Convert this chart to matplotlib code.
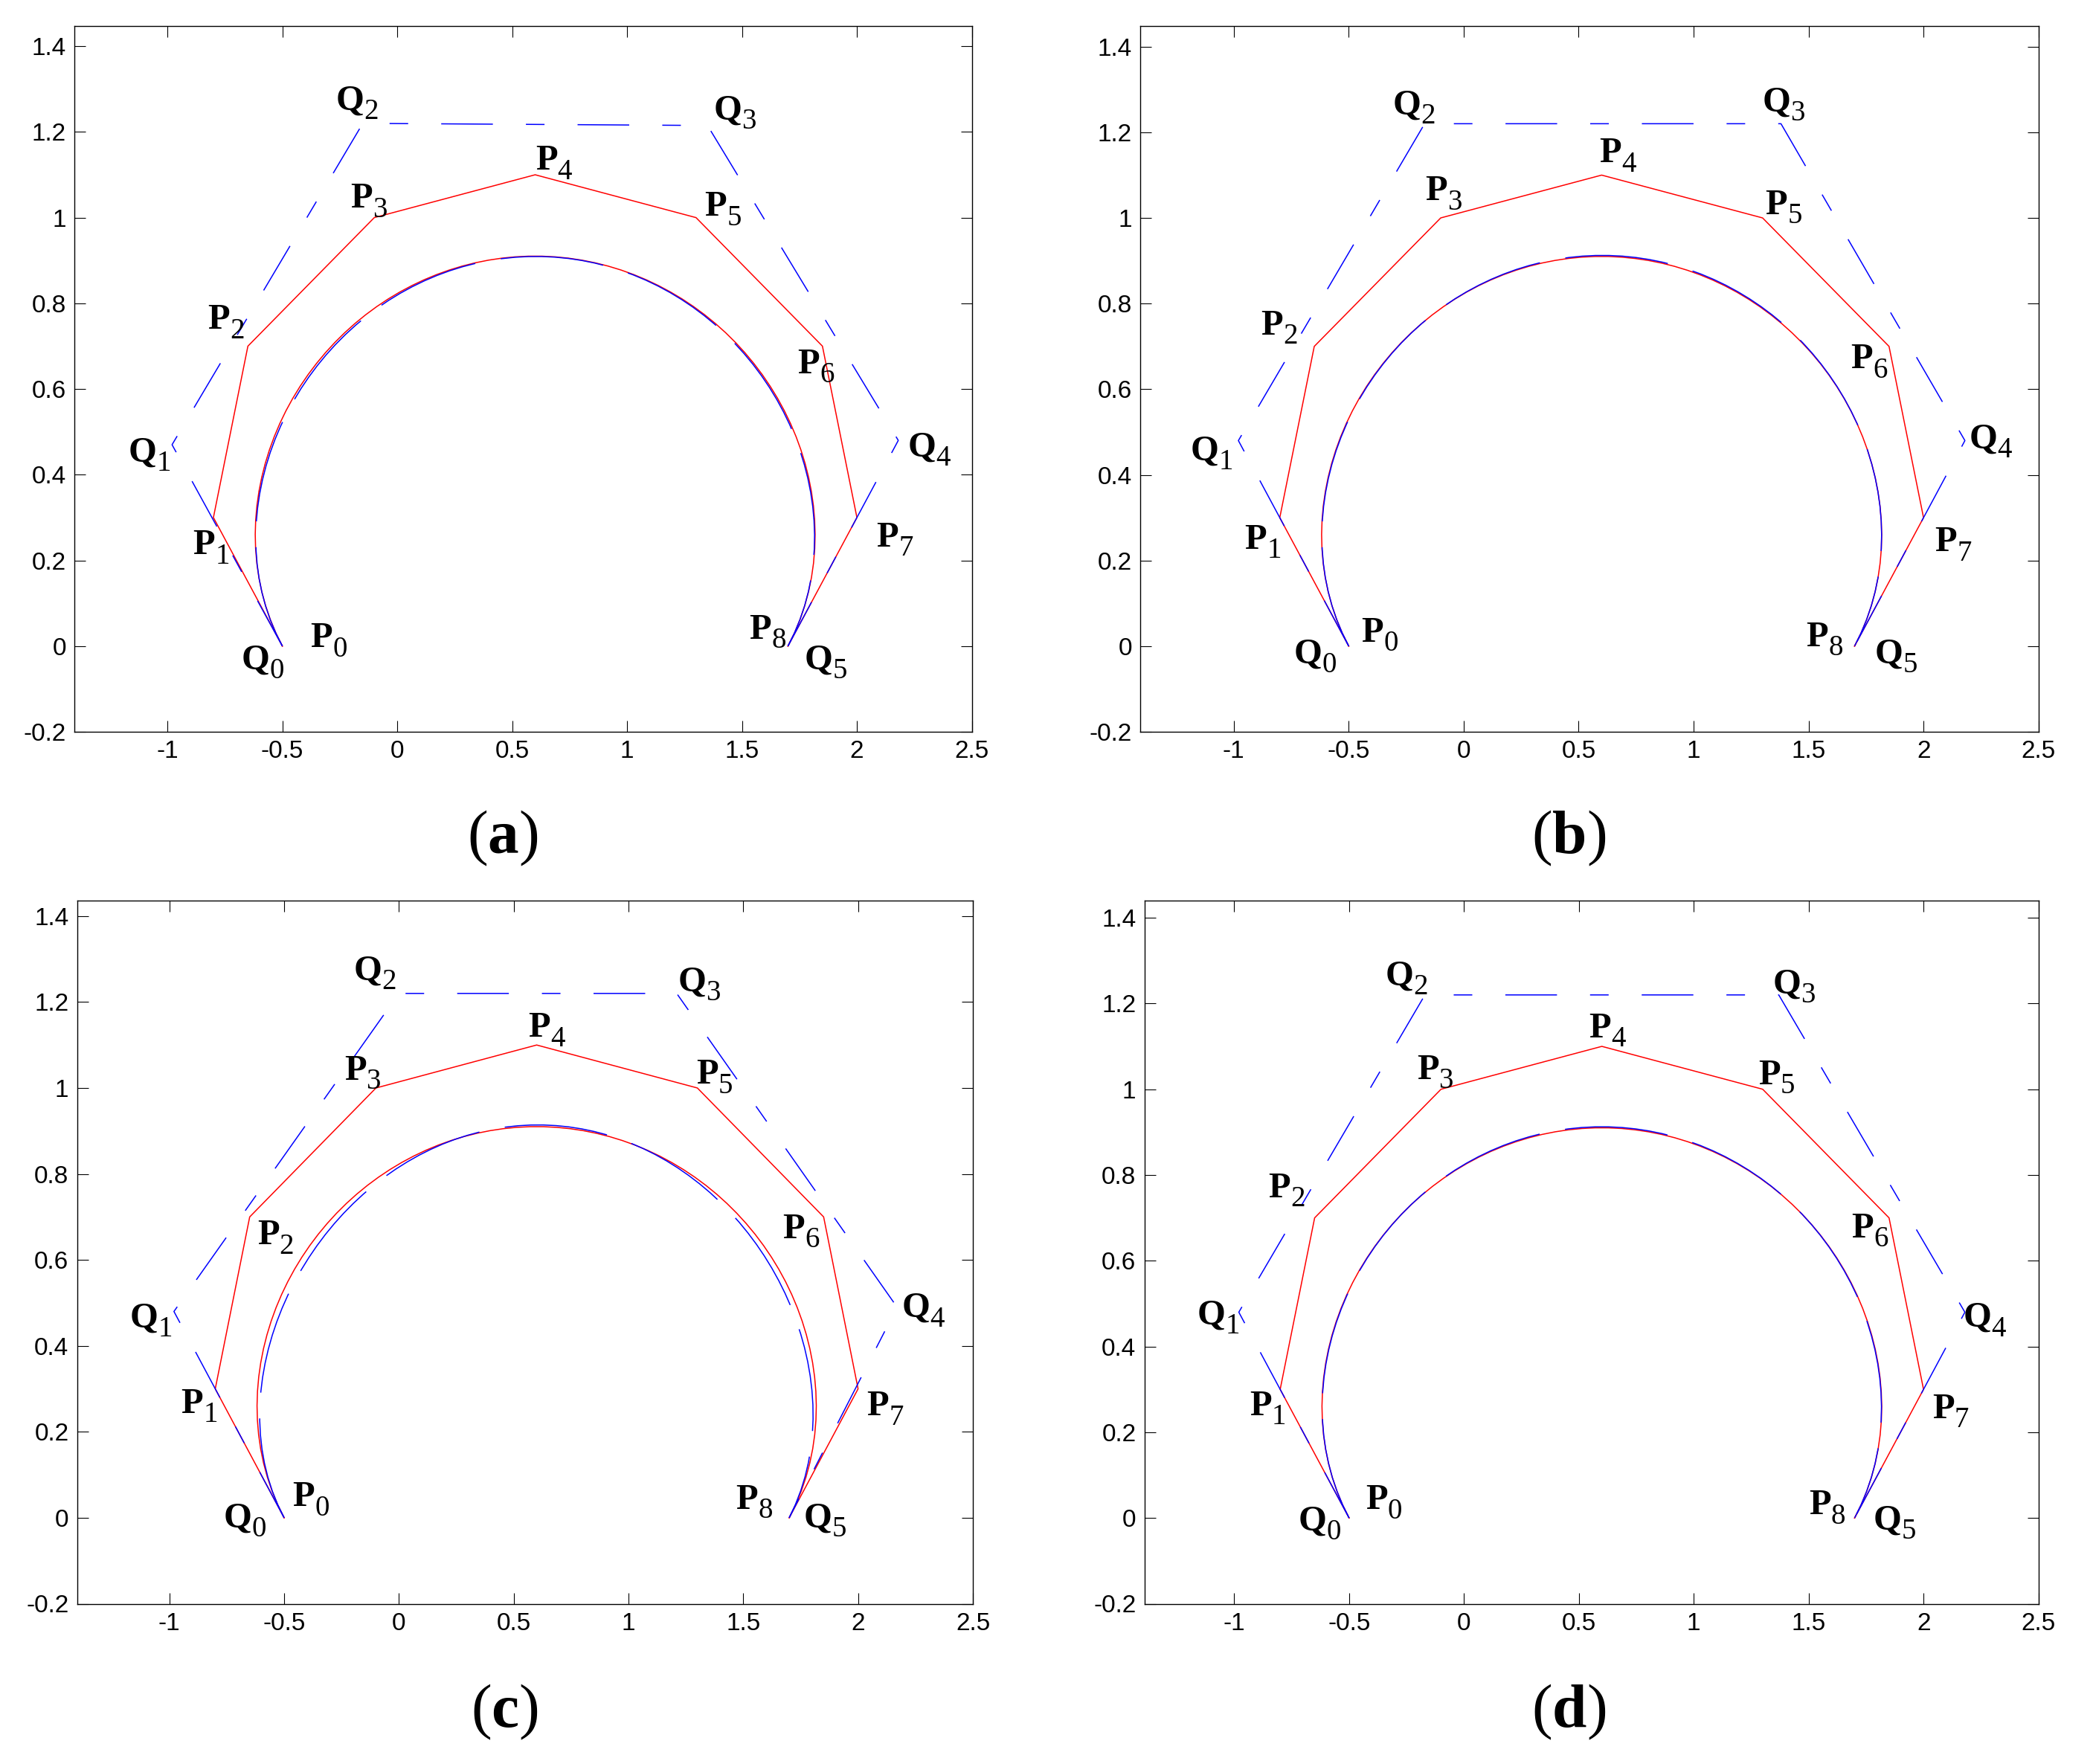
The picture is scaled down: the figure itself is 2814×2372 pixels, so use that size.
import numpy as np
import matplotlib
matplotlib.use('Agg')
import matplotlib.pyplot as plt
import matplotlib.transforms as mtransforms
from math import comb

plt.rcParams['mathtext.fontset'] = 'custom'
plt.rcParams['mathtext.rm'] = 'Liberation Serif'
plt.rcParams['mathtext.bf'] = 'Liberation Serif:bold'
plt.rcParams['mathtext.it'] = 'Liberation Serif:italic'
plt.rcParams['lines.scale_dashes'] = False

# ---------------- data ----------------
P_x = [-0.5, -0.8, -0.65, -0.1, 0.6, 1.3, 1.85, 2.0, 1.7]
P_y = [0.0, 0.3, 0.7, 1.0, 1.1, 1.0, 0.7, 0.3, 0.0]

Q_x_a = [-0.5, -0.98, -0.15, 1.35, 2.18, 1.7]
Q_y_a = [0.0, 0.47, 1.22, 1.215, 0.48, 0.0]
Q_x_b = [-0.5, -0.98, -0.17, 1.38, 2.18, 1.7]
Q_y_b = [0.0, 0.48, 1.22, 1.22, 0.48, 0.0]
Q_x_c = [-0.5, -0.98, 0.0, 1.21, 2.17, 1.7]
Q_y_c = [0.0, 0.48, 1.22, 1.22, 0.49, 0.0]
Q_x_d = [-0.5, -0.98, -0.17, 1.37, 2.18, 1.7]
Q_y_d = [0.0, 0.48, 1.22, 1.22, 0.48, 0.0]

panel_names = ['(a)', '(b)', '(c)', '(d)']

x_ticks = [-1, -0.5, 0, 0.5, 1, 1.5, 2, 2.5]
x_ticklabels = ['-1', '-0.5', '0', '0.5', '1', '1.5', '2', '2.5']
y_ticks = [-0.2, 0, 0.2, 0.4, 0.6, 0.8, 1.0, 1.2, 1.4]
y_ticklabels = ['-0.2', '0', '0.2', '0.4', '0.6', '0.8', '1', '1.2', '1.4']

point_names = ['P0', 'P1', 'P2', 'P3', 'P4', 'P5', 'P6', 'P7', 'P8',
               'Q0', 'Q1', 'Q2', 'Q3', 'Q4', 'Q5']

# ---------------- layout (label anchor positions, left/baseline) ----------------
LABEL_POS = {
    '(a)': [(-0.378, -0.003), (-0.89, 0.214), (-0.826, 0.740), (-0.204, 1.023),
            (0.60, 1.112), (1.337, 1.004), (1.742, 0.637), (2.084, 0.233),
            (1.531, 0.017), (-0.679, -0.054), (-1.171, 0.431), (-0.268, 1.252),
            (1.375, 1.229), (2.22, 0.443), (1.771, -0.054)],
    '(b)': [(-0.445, 0.011), (-0.954, 0.228), (-0.883, 0.728), (-0.168, 1.041),
            (0.59, 1.13), (1.311, 1.009), (1.682, 0.649), (2.048, 0.222),
            (1.49, 0.0), (-0.74, -0.04), (-1.189, 0.435), (-0.311, 1.243),
            (1.299, 1.249), (2.197, 0.462), (1.785, -0.04)],
    '(c)': [(-0.465, 0.027), (-0.951, 0.244), (-0.618, 0.636), (-0.239, 1.019),
            (0.562, 1.119), (1.294, 1.010), (1.67, 0.651), (2.037, 0.238),
            (1.467, 0.021), (-0.766, -0.022), (-1.174, 0.443), (-0.199, 1.252),
            (1.213, 1.225), (2.188, 0.467), (1.762, -0.022)],
    '(d)': [(-0.429, 0.021), (-0.934, 0.24), (-0.851, 0.748), (-0.206, 1.024),
            (0.543, 1.121), (1.28, 1.012), (1.686, 0.655), (2.037, 0.233),
            (1.5, 0.009), (-0.723, -0.028), (-1.163, 0.452), (-0.343, 1.243),
            (1.343, 1.224), (2.171, 0.446), (1.78, -0.026)],
}

W, H = 2814, 2372
DPI = 100
AX_RECTS = {  # left, bottom, width, height in figure fractions
    '(a)': (100 / W, 1 - 984 / H, 1206.6 / W, 949.5 / H),
    '(b)': (1533 / W, 1 - 984 / H, 1207.7 / W, 949.5 / H),
    '(c)': (103.6 / W, 1 - 2156.5 / H, 1204.4 / W, 945.5 / H),
    '(d)': (1538.6 / W, 1 - 2156.5 / H, 1202 / W, 945.5 / H),
}
YLIM_TOP = {'(a)': 1.448, '(b)': 1.449, '(c)': 1.436, '(d)': 1.44}
XLIM_LEFT = {'(a)': -1.405, '(b)': -1.407, '(c)': -1.402, '(d)': -1.391}
CAPTION_POS = {'(a)': (676 / W, 1 - 1127 / H), '(b)': (2109 / W, 1 - 1127 / H),
               '(c)': (678 / W, 1 - 2301 / H), '(d)': (2109 / W, 1 - 2301 / H)}

LABEL_FS = 35          # main letter size (pt)
SUB_FS = 28            # subscript digit size (pt)
ADVANCE = {'P': 0.611, 'Q': 0.778}   # letter advance widths (em) of bold serif
SUB_DROP = 9.0         # subscript drop below baseline (pt)


def bezier(xs, ys, n=80):
    xs = np.asarray(xs, float)
    ys = np.asarray(ys, float)
    deg = len(xs) - 1
    t = np.linspace(0, 1, n)
    B = np.array([comb(deg, k) * t ** k * (1 - t) ** (deg - k) for k in range(deg + 1)])
    return xs @ B, ys @ B


Q_sets = {'(a)': (Q_x_a, Q_y_a), '(b)': (Q_x_b, Q_y_b),
          '(c)': (Q_x_c, Q_y_c), '(d)': (Q_x_d, Q_y_d)}

fig = plt.figure(figsize=(W / DPI, H / DPI), dpi=DPI)

LW = 1.1
for name in panel_names:
    ax = fig.add_axes(AX_RECTS[name])
    qx, qy = Q_sets[name]

    # red control polygon and curve
    ax.plot(P_x, P_y, color='#ff0000', lw=LW, zorder=2)
    cx, cy = bezier(P_x, P_y)
    ax.plot(cx, cy, color='#ff0000', lw=LW, zorder=2)

    # blue control polygon (dashed) and curve
    ax.plot(qx, qy, color='#0000ff', lw=LW, zorder=3,
            linestyle=(0, (50, 32, 18, 32)))
    bx, by = bezier(qx, qy)
    ax.plot(bx, by, color='#0000ff', lw=LW, zorder=3,
            linestyle=(0, (100, 25)))

    for pname, (lx, ly) in zip(point_names, LABEL_POS[name]):
        letter, digit = pname[0], pname[1:]
        ax.text(lx, ly, r'$\mathbf{%s}$' % letter, fontsize=LABEL_FS,
                ha='left', va='baseline', zorder=4)
        off = mtransforms.ScaledTranslation(ADVANCE[letter] * LABEL_FS / 72.0,
                                            -SUB_DROP / 72.0, fig.dpi_scale_trans)
        ax.text(lx, ly, r'$\mathrm{%s}$' % digit, fontsize=SUB_FS,
                ha='left', va='baseline', zorder=4,
                transform=ax.transData + off)

    ax.set_xlim(XLIM_LEFT[name], 2.5)
    ax.set_ylim(-0.2, YLIM_TOP[name])
    ax.set_xticks(x_ticks)
    ax.set_xticklabels(x_ticklabels)
    ax.set_yticks(y_ticks)
    ax.set_yticklabels(y_ticklabels)
    ax.tick_params(direction='in', length=10.8, width=0.8, top=True, right=True,
                   labelsize=24, pad=8)
    for lbl in ax.get_xticklabels() + ax.get_yticklabels():
        lbl.set_fontfamily('Liberation Sans')
    for sp in ax.spines.values():
        sp.set_linewidth(1.0)

    cx_, cy_ = CAPTION_POS[name]
    fig.text(cx_, cy_, r'$(\mathbf{%s})$' % name[1], fontsize=60,
             ha='center', va='center')

fig.savefig('out.png', dpi=DPI)
